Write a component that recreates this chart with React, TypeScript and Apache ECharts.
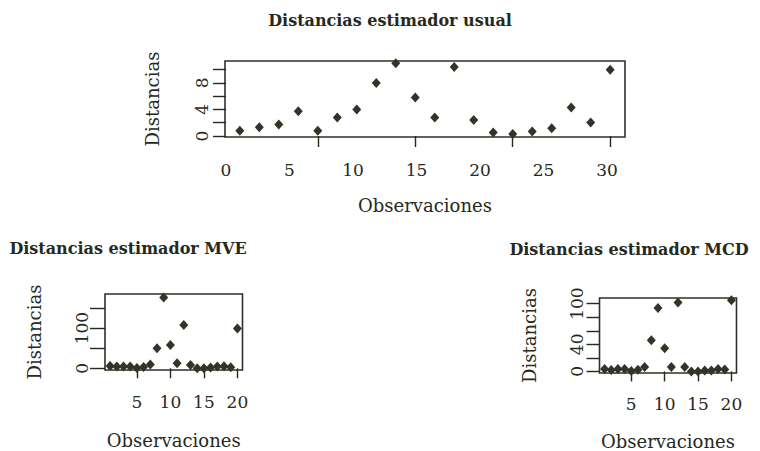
import React, { useEffect, useRef } from "react";
import * as echarts from "echarts";

const observations = [1, 2, 3, 4, 5, 6, 7, 8, 9, 10, 11, 12, 13, 14, 15, 16, 17, 18, 19, 20];
const usualDistances = [0.81, 1.31, 1.72, 3.73, 0.81, 2.77, 3.98, 8.0, 10.95, 5.8, 2.78, 10.38, 2.41, 0.51, 0.3, 0.66, 1.16, 4.28, 2.02, 10.0];
const mveDistances = [5.8, 4.2, 4.2, 4.2, 0.8, 3.3, 9.2, 50, 176, 58, 12.5, 108, 8.3, 0, 0, 1.7, 4.2, 5, 2.5, 99];
const mcdDistances = [3.5, 2, 3.5, 3.5, 0.5, 2.5, 6.4, 46, 93.6, 34.2, 6.4, 101.5, 6.4, 0, 0, 1.5, 1.5, 3.5, 3, 105];

const obsTicks = [5, 10, 15, 20];
const usualXLabels = [0, 5, 10, 15, 20, 25, 30];
const usualYTicks = [0, 2, 4, 6, 8, 10];
const usualYLabels = [0, 4, 8];
const mveYTicks = [0, 50, 100, 150];
const mveYLabels = [0, 100];
const mcdYTicks = [0, 20, 40, 60, 80, 100];
const mcdYLabels = [0, 40, 100];

const titles = [
  "Distancias estimador usual",
  "Distancias estimador MVE",
  "Distancias estimador MCD",
];
const xName = "Observaciones";
const yName = "Distancias";

const INK = "#262920";
const MARK = "#30352a";
const FONT = "DejaVu Serif";

export default function App() {
  const ref = useRef<HTMLDivElement>(null);
  useEffect(() => {
    if (!ref.current) return;
    const chart = echarts.init(ref.current, null, { renderer: "svg" });

    const nameStyle = { color: INK, fontFamily: FONT, fontSize: 18 };
    const tickLabelStyle = { color: INK, fontFamily: FONT, fontSize: 17 };

    const grid = (left: number, top: number, width: number, height: number) => ({
      left, top, width, height,
      show: true,
      borderColor: "#2f3129",
      borderWidth: 1.6,
      backgroundColor: "transparent",
      containLabel: false,
    });

    const dataX = (gridIndex: number, gap: number, showLabels: boolean, labelMargin: number, tickLen: number) => ({
      type: "value",
      gridIndex,
      min: 0.24,
      max: 20.76,
      position: "bottom",
      name: xName,
      nameLocation: "middle",
      nameGap: gap,
      nameTextStyle: nameStyle,
      axisLine: { show: false },
      splitLine: { show: false },
      axisTick: { show: true, customValues: obsTicks, length: tickLen, lineStyle: { color: INK, width: 1.4 } },
      axisLabel: { show: showLabels, customValues: obsTicks, margin: labelMargin, ...tickLabelStyle },
    });

    const yAx = (gridIndex: number, min: number, max: number, ticks: number[], labels: number[], gap: number, tickLen: number, labelMargin: number) => ({
      type: "value",
      gridIndex,
      min,
      max,
      position: "left",
      name: yName,
      nameLocation: "middle",
      nameRotate: 90,
      nameGap: gap,
      nameTextStyle: nameStyle,
      axisLine: { show: false },
      splitLine: { show: false },
      axisTick: { show: true, customValues: ticks, length: tickLen, lineStyle: { color: INK, width: 1.4 } },
      axisLabel: { show: true, customValues: labels, rotate: 90, margin: labelMargin, ...tickLabelStyle },
    });

    const pts = (vals: number[]) => observations.map((o, i) => [o, vals[i]]);

    const scatter = (xAxisIndex: number, yAxisIndex: number, vals: number[]) => ({
      type: "scatter",
      xAxisIndex,
      yAxisIndex,
      symbol: "diamond",
      symbolSize: [9, 10],
      itemStyle: { color: MARK, opacity: 1 },
      data: pts(vals),
      silent: true,
    });

    const titleFont = `bold 16px "${FONT}"`;

    const option: any = {
      animation: false,
      backgroundColor: "#ffffff",
      grid: [grid(225, 61, 400, 76), grid(105, 294, 137.5, 76), grid(599.5, 298, 137, 76)],
      xAxis: [
        dataX(0, 59, false, 25, 11),
        {
          type: "value",
          gridIndex: 0,
          min: -0.08,
          max: 31.42,
          position: "bottom",
          axisLine: { show: false },
          splitLine: { show: false },
          axisTick: { show: false },
          axisLabel: { show: true, customValues: usualXLabels, margin: 24, ...tickLabelStyle },
        },
        dataX(1, 61, true, 23.5, 10),
        dataX(2, 59, true, 22.5, 10),
      ],
      yAxis: [
        yAx(0, -0.15, 11.3, usualYTicks, usualYLabels, 63.5, 13, 15),
        yAx(1, -4.25, 185, mveYTicks, mveYLabels, 62, 15, 15),
        yAx(2, -2.3, 108.3, mcdYTicks, mcdYLabels, 61.5, 13, 14.5),
      ],
      series: [
        scatter(0, 0, usualDistances),
        scatter(2, 1, mveDistances),
        scatter(3, 2, mcdDistances),
      ],
      graphic: [
        { type: "text", x: 390, y: 20, style: { text: titles[0], fill: INK, font: titleFont, textAlign: "center", textVerticalAlign: "middle" } },
        { type: "text", x: 128, y: 248, style: { text: titles[1], fill: INK, font: titleFont, textAlign: "center", textVerticalAlign: "middle" } },
        { type: "text", x: 629, y: 249, style: { text: titles[2], fill: INK, font: titleFont, textAlign: "center", textVerticalAlign: "middle" } },
      ],
    };

    chart.setOption(option);
    return () => chart.dispose();
  }, []);

  return <div ref={ref} style={{ position: "fixed", left: 0, top: 0, width: 760, height: 451 }} />;
}
